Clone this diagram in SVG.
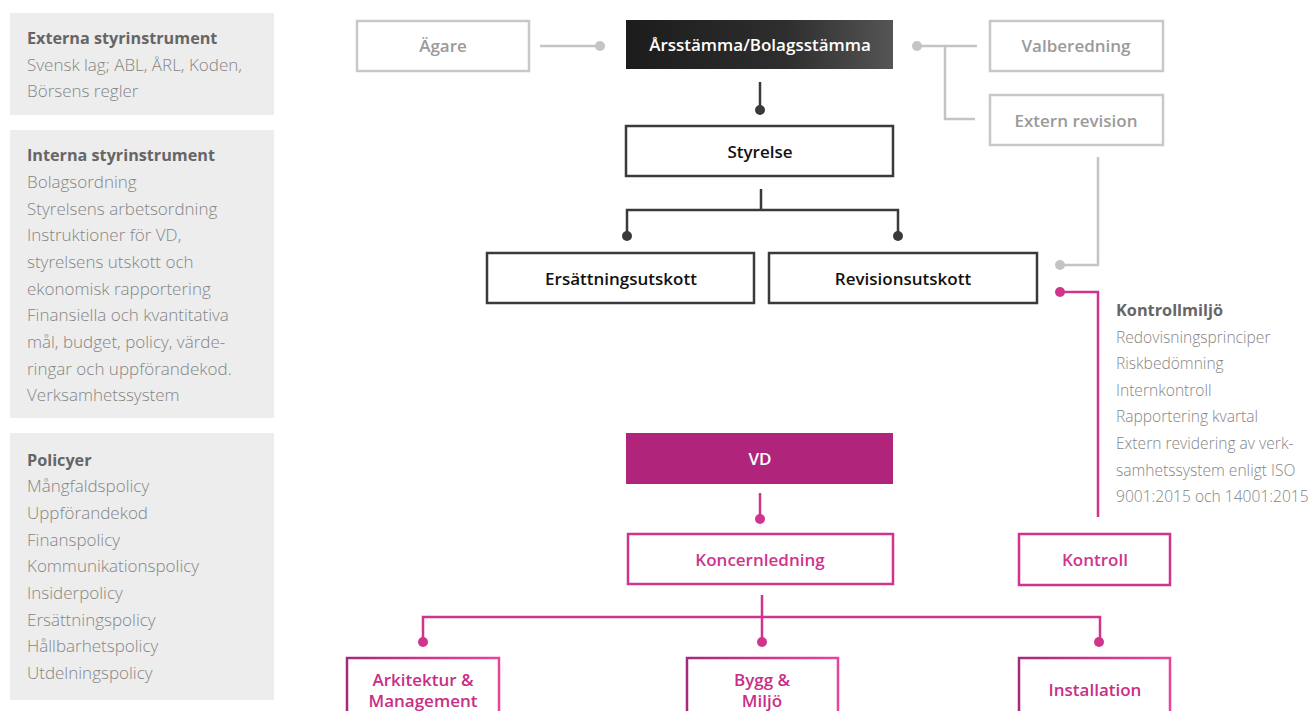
<svg xmlns="http://www.w3.org/2000/svg" width="1313" height="711" viewBox="0 0 1313 711">
<defs>
<linearGradient id="dark" x1="0" y1="0" x2="1" y2="0"><stop offset="0" stop-color="#1c1c1c"/><stop offset="0.6" stop-color="#2e2e2e"/><stop offset="1" stop-color="#555"/></linearGradient>
<linearGradient id="pinkg" x1="0" y1="0" x2="1" y2="0"><stop offset="0" stop-color="#a5287c"/><stop offset="0.5" stop-color="#d0338c"/><stop offset="1" stop-color="#e8449c"/></linearGradient>
<style>
.panel{fill:#ededed}
.ph{font-family:"Open Sans",sans-serif;font-weight:700;font-size:16.2px;fill:#666}
.pt{font-family:"Open Sans",sans-serif;font-weight:300;font-size:17px;fill:#858585}
.kh{font-family:"Open Sans",sans-serif;font-weight:700;font-size:16.3px;fill:#666}
.kt{font-family:"Open Sans",sans-serif;font-weight:300;font-size:15.6px;fill:#858585}
.lbl{font-family:"Open Sans",sans-serif;font-weight:600;font-size:17px;text-anchor:middle}
.gbox{fill:#fff;stroke:#c8c8c8;stroke-width:2.5}
.kbox{fill:#fff;stroke:#3a3a3a;stroke-width:2.5}
.pbox{fill:#fff;stroke:#d0348c;stroke-width:2.5}
.gbx2{fill:#fff;stroke:url(#pinkg);stroke-width:2.5}
.gl{fill:none;stroke:#c4c4c6;stroke-width:2.5}
.kl{fill:none;stroke:#3a3a3a;stroke-width:2.5}
.pl{fill:none;stroke:#d0348c;stroke-width:2.5}
.gd{fill:#c4c4c6}.kd{fill:#3a3a3a}.pd{fill:#d0348c}
</style>
</defs>
<rect width="1313" height="711" fill="#fff"/>
<g id="panel-externa">
<rect class="panel" x="10" y="13" width="264" height="102"/>
<text class="ph" x="27" y="44">Externa styrinstrument</text>
<text class="pt" x="27" y="71">Svensk lag; ABL, ÅRL, Koden,</text>
<text class="pt" x="27" y="97">Börsens regler</text>
</g>
<g id="panel-interna">
<rect class="panel" x="10" y="130" width="264" height="288"/>
<text class="ph" x="27" y="161">Interna styrinstrument</text>
<text class="pt" x="27" y="188">Bolagsordning</text>
<text class="pt" x="27" y="215">Styrelsens arbetsordning</text>
<text class="pt" x="27" y="241">Instruktioner för VD,</text>
<text class="pt" x="27" y="268">styrelsens utskott och</text>
<text class="pt" x="27" y="295">ekonomisk rapportering</text>
<text class="pt" x="27" y="321">Finansiella och kvantitativa</text>
<text class="pt" x="27" y="348">mål, budget, policy, värde-</text>
<text class="pt" x="27" y="375">ringar och uppförandekod.</text>
<text class="pt" x="27" y="401">Verksamhetssystem</text>
</g>
<g id="panel-policyer">
<rect class="panel" x="10" y="433" width="264" height="267"/>
<text class="ph" x="27" y="466">Policyer</text>
<text class="pt" x="27" y="492">Mångfaldspolicy</text>
<text class="pt" x="27" y="519">Uppförandekod</text>
<text class="pt" x="27" y="546">Finanspolicy</text>
<text class="pt" x="27" y="572">Kommunikationspolicy</text>
<text class="pt" x="27" y="599">Insiderpolicy</text>
<text class="pt" x="27" y="626">Ersättningspolicy</text>
<text class="pt" x="27" y="652">Hållbarhetspolicy</text>
<text class="pt" x="27" y="679">Utdelningspolicy</text>
</g>
<g id="connectors">
<line class="gl" x1="540" y1="46" x2="600" y2="46"/><circle class="gd" cx="600" cy="46" r="5"/>
<path class="gl" d="M917 46H977M945 46V119H975"/><circle class="gd" cx="917" cy="46" r="5"/>
<path class="gl" d="M1098 157V265H1060"/><circle class="gd" cx="1060" cy="265" r="5"/>
<line class="kl" x1="760" y1="82" x2="760" y2="110"/><circle class="kd" cx="760" cy="110" r="5"/>
<path class="kl" d="M761 189V210M627 236V210H898V236"/><circle class="kd" cx="627" cy="236" r="5"/><circle class="kd" cx="898" cy="236" r="5"/>
<path class="pl" d="M1060 292H1098V517"/><circle class="pd" cx="1060" cy="292" r="5"/>
<line class="pl" x1="760" y1="493" x2="760" y2="519"/><circle class="pd" cx="760" cy="519" r="5"/>
<path class="pl" d="M762 595V642M423 642V617H1100V642"/><circle class="pd" cx="423" cy="642" r="5"/><circle class="pd" cx="762" cy="642" r="5"/><circle class="pd" cx="1099" cy="642" r="5"/>
</g>
<g id="node-agare"><rect class="gbox" x="357" y="21" width="172" height="50"/><text class="lbl" x="443" y="52" fill="#9a9a9a">Ägare</text></g>
<g id="node-arsstamma"><rect x="626" y="20" width="267" height="49" fill="url(#dark)"/><text class="lbl" x="760" y="51" fill="#fff">Årsstämma/Bolagsstämma</text></g>
<g id="node-valberedning"><rect class="gbox" x="990" y="21" width="173" height="50"/><text class="lbl" x="1076" y="52" fill="#9a9a9a">Valberedning</text></g>
<g id="node-extern-revision"><rect class="gbox" x="990" y="95" width="173" height="50"/><text class="lbl" x="1076" y="127" fill="#9a9a9a">Extern revision</text></g>
<g id="node-styrelse"><rect class="kbox" x="626" y="126" width="267" height="50"/><text class="lbl" x="760" y="158" fill="#111">Styrelse</text></g>
<g id="node-ersattningsutskott"><rect class="kbox" x="487" y="253" width="267" height="50"/><text class="lbl" x="621" y="285" fill="#111">Ersättningsutskott</text></g>
<g id="node-revisionsutskott"><rect class="kbox" x="769" y="253" width="268" height="50"/><text class="lbl" x="903" y="285" fill="#111">Revisionsutskott</text></g>
<g id="kontrollmiljo">
<text class="kh" x="1116" y="316">Kontrollmiljö</text>
<text class="kt" x="1116" y="343">Redovisningsprinciper</text>
<text class="kt" x="1116" y="369">Riskbedömning</text>
<text class="kt" x="1116" y="396">Internkontroll</text>
<text class="kt" x="1116" y="422">Rapportering kvartal</text>
<text class="kt" x="1116" y="449">Extern revidering av verk-</text>
<text class="kt" x="1116" y="476">samhetssystem enligt ISO</text>
<text class="kt" x="1116" y="502">9001:2015 och 14001:2015</text>
</g>
<g id="node-vd"><rect x="626" y="433" width="267" height="51" fill="#b1247b"/><text class="lbl" x="760" y="465" fill="#fff">VD</text></g>
<g id="node-koncernledning"><rect class="pbox" x="628" y="534" width="265" height="50"/><text class="lbl" x="760" y="566" fill="#d0348c">Koncernledning</text></g>
<g id="node-kontroll"><rect class="pbox" x="1019" y="534" width="151" height="51"/><text class="lbl" x="1095" y="566" fill="#d0348c">Kontroll</text></g>
<g id="node-arkitektur"><rect class="gbx2" x="347" y="658" width="152" height="60"/><text class="lbl" x="423" y="686" fill="#c82f86">Arkitektur &amp;</text><text class="lbl" x="423" y="707" fill="#c82f86">Management</text></g>
<g id="node-bygg"><rect class="gbx2" x="687" y="658" width="151" height="60"/><text class="lbl" x="762" y="686" fill="#c82f86">Bygg &amp;</text><text class="lbl" x="762" y="707" fill="#c82f86">Miljö</text></g>
<g id="node-installation"><rect class="gbx2" x="1019" y="658" width="151" height="60"/><text class="lbl" x="1095" y="696" fill="#c82f86">Installation</text></g>
</svg>
